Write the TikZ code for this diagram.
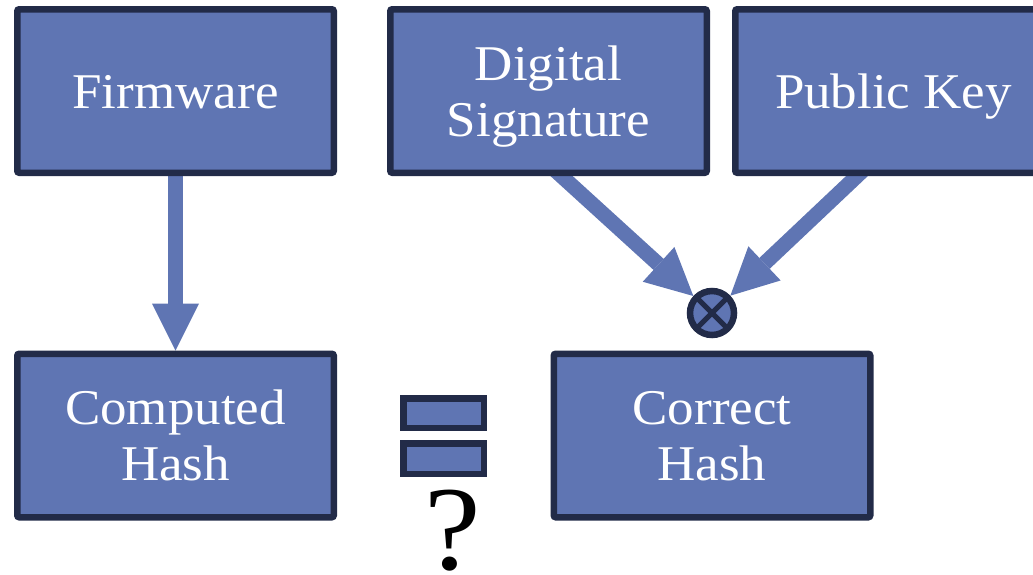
\documentclass[tikz,border=0pt]{standalone}
\usepackage{fontspec}
\setmainfont[FakeStretch=1.06]{Liberation Serif}
\usetikzlibrary{arrows.meta,backgrounds}

\definecolor{boxfill}{RGB}{95,117,179}
\definecolor{boxline}{RGB}{34,43,72}

\begin{document}
\begin{tikzpicture}[x=1pt,y=-1pt,
  blockbox/.style={draw=boxline, fill=boxfill, line width=6.5pt, rounded corners=2pt,
    minimum width=316.5pt, minimum height=163.5pt, inner sep=0pt,
    text=white, align=center, font=\fontsize{50}{56}\selectfont,
    text height=34pt, text depth=0pt},
  twolines/.style={text height=90pt},
  flow/.style={draw=boxfill, line width=15pt,
    -{Triangle[length=47pt,width=47pt,line width=0pt]}},
  eqbar/.style={draw=boxline, fill=boxfill, line width=6.5pt,
    minimum width=80.5pt, inner sep=0pt},
  combine/.style={circle, draw=boxline, fill=boxfill, line width=6.5pt,
    minimum size=44pt, inner sep=0pt,
    path picture={\draw[boxline, line width=5pt]
      (path picture bounding box.north west) -- (path picture bounding box.south east)
      (path picture bounding box.north east) -- (path picture bounding box.south west);}},
  query/.style={font=\fontsize{120}{124}\selectfont, inner sep=0pt, anchor=base}]

  \clip (0,0) rectangle (1033,574);

  % blocks
  \node[blockbox] (fw) at (175.5,91)   {Firmware};
  \node[blockbox, twolines] (ds) at (548.5,91)   {Digital\\Signature};
  \node[blockbox] (pk) at (893.5,91)   {Public Key};
  \node[blockbox, twolines] (ch) at (175.5,435.5) {Computed\\Hash};
  \node[blockbox, twolines] (rh) at (712,435.5)   {Correct\\Hash};

  % signature check operator
  \node[combine] (xo) at (712,313) {};

  % comparison sign
  \node[eqbar, minimum height=29.5pt] (eqtop) at (443.5,413) {};
  \node[eqbar, minimum height=30.5pt] (eqbot) at (443.5,458.5) {};
  \node[query] (qm) at (452.5,569) {?};

  % connectors
  \begin{scope}[on background layer]
    \draw[flow, shorten <=-12pt] (fw.south) -- (ch.north);
    \draw[flow, shorten <=-12pt] ([xshift=13pt]ds.south) -- (xo);
    \draw[flow, shorten <=-12pt] ([xshift=-36.5pt]pk.south) -- (xo);
  \end{scope}
\end{tikzpicture}
\end{document}
